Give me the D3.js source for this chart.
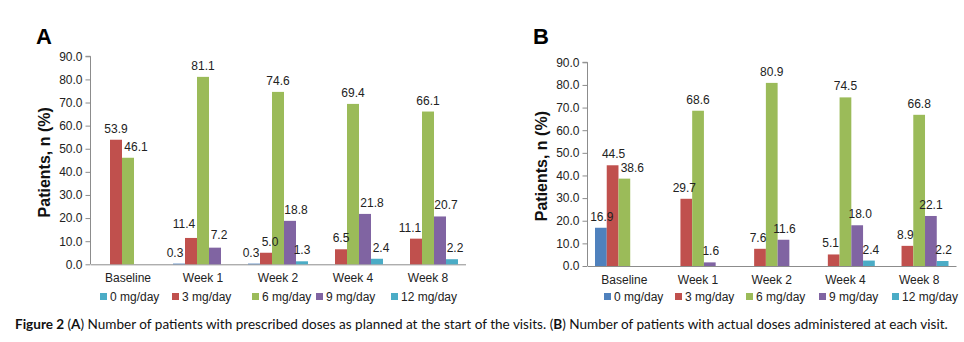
<!DOCTYPE html>
<html>
<head>
<meta charset="utf-8">
<script src="https://cdn.jsdelivr.net/npm/d3@7"></script>
<style>
  body { margin: 0; background: #fff; }
  svg text { font-family: "Liberation Sans", Arial, sans-serif; }
  svg text.caption { font-family: Lato, "Open Sans", sans-serif; }
</style>
</head>
<body>
<svg id="chart" width="964" height="342"></svg>
<script>
// Categories and series
const visits = ["Baseline", "Week 1", "Week 2", "Week 4", "Week 8"];
const doses = ["0 mg/day", "3 mg/day", "6 mg/day", "9 mg/day", "12 mg/day"];
const yTicks = [0, 10, 20, 30, 40, 50, 60, 70, 80, 90];

// Panel A: prescribed doses (null = no bar)
const prescribed0 = [null, 0.3, 0.3, null, null];
const prescribed3 = [53.9, 11.4, 5.0, 6.5, 11.1];
const prescribed6 = [46.1, 81.1, 74.6, 69.4, 66.1];
const prescribed9 = [null, 7.2, 18.8, 21.8, 20.7];
const prescribed12 = [null, null, 1.3, 2.4, 2.2];

// Panel B: actual doses administered
const actual0 = [16.9, null, null, null, null];
const actual3 = [44.5, 29.7, 7.6, 5.1, 8.9];
const actual6 = [38.6, 68.6, 80.9, 74.5, 66.8];
const actual9 = [null, 1.6, 11.6, 18.0, 22.1];
const actual12 = [null, null, null, 2.4, 2.2];

const barColors = ["#4f81bd", "#c0504d", "#9bbb59", "#8064a2", "#4bacc6"];
const legendColorsA = ["#4bacc6", "#c0504d", "#9bbb59", "#8064a2", "#4bacc6"];
const legendColorsB = barColors;

// label nudges (px) so value labels don't collide, per series x visit
const labelDxA = [
    [0, -4, -3, 0, 0],
    [0, -7, 4, 0, -6],
    [8, 0, 0, 0, 0],
    [0, 4, 6, 7, 6],
    [0, 0, 0, 4, 3]
];
const labelDyA = [
    [0, 0, 0, 0, 0],
    [0, -3, 0, 0, 0],
    [0, 0, 0, 0, 0],
    [0, -2, 0, 0, 0],
    [0, 0, 0, 0, 0]
];
const labelDxB = [
    [1, 0, 0, 0, 0],
    [1, -2, -2, -3, -2],
    [8, 0, 0, 0, 0],
    [0, 1, 1, 3, 0],
    [0, 0, 0, 2, 1]
];

const svg = d3.select("#chart");

function drawPanel(opts) {
    const g = svg.append("g");
    const series = opts.series;

    const x = d3.scaleBand().domain(visits).range([opts.x0, opts.x1]);
    const xs = d3.scaleBand().domain(doses).range([7.5, x.bandwidth() - 7.5]);
    const y = d3.scaleLinear().domain([0, 90]).range([opts.y0, opts.y1]);

    // Panel letter
    g.append("text")
        .attr("x", opts.letterX).attr("y", 44)
        .attr("font-size", 22).attr("font-weight", "bold")
        .text(opts.letter);

    // Y axis
    const yAxis = g.append("g")
        .attr("transform", `translate(${opts.x0},0)`)
        .call(d3.axisLeft(y).tickValues(yTicks).tickSize(5).tickPadding(3).tickFormat(d3.format(".1f")));
    yAxis.select(".domain").attr("stroke", "#8c8c8c").attr("d", `M-5,${y(90)}H0V${y(0)}`);
    yAxis.selectAll(".tick line").attr("stroke", "#8c8c8c");
    yAxis.selectAll(".tick text").attr("font-size", 12).attr("fill", "#222")
        .attr("font-family", null);

    // X axis
    const xAxis = g.append("g")
        .attr("transform", `translate(0,${opts.y0})`)
        .call(d3.axisBottom(x).tickSize(0).tickPadding(9));
    xAxis.select(".domain").attr("stroke", "#8c8c8c");
    xAxis.selectAll(".tick text").attr("font-size", 12).attr("fill", "#222");
    xAxis.attr("font-family", null);
    yAxis.attr("font-family", null);

    // Axis title
    g.append("text")
        .attr("transform", `translate(${opts.titleX},${(opts.y0 + opts.y1) / 2 + 2}) rotate(-90)`)
        .attr("text-anchor", "middle")
        .attr("font-size", 16).attr("font-weight", "bold").attr("fill", "#111")
        .text("Patients, n (%)");

    // Bars and labels
    const cells = [];
    series.forEach((vals, si) => {
        vals.forEach((v, ci) => {
            if (v !== null) cells.push({ visit: visits[ci], dose: doses[si], si: si, ci: ci, v: v });
        });
    });

    g.append("g").selectAll("rect")
        .data(cells)
        .enter().append("rect")
        .attr("x", d => x(d.visit) + xs(d.dose))
        .attr("y", d => y(d.v))
        .attr("width", xs.bandwidth())
        .attr("height", d => y(0) - y(d.v))
        .attr("fill", d => barColors[d.si]);

    g.append("g").selectAll("text")
        .data(cells)
        .enter().append("text")
        .attr("x", d => x(d.visit) + xs(d.dose) + xs.bandwidth() / 2 + opts.dx[d.si][d.ci])
        .attr("y", d => y(d.v) - 7 + (opts.dy ? opts.dy[d.si][d.ci] : 0))
        .attr("text-anchor", "middle")
        .attr("font-size", 12).attr("fill", "#222")
        .text(d => d3.format(".1f")(d.v));

    // Legend
    const leg = g.append("g").attr("transform", `translate(0,297)`);
    const item = leg.selectAll("g")
        .data(doses)
        .enter().append("g")
        .attr("transform", (d, i) => `translate(${opts.legendX[i]},0)`);
    item.append("rect")
        .attr("x", 0).attr("y", -4).attr("width", 7).attr("height", 7)
        .attr("fill", (d, i) => opts.legendColors[i]);
    item.append("text")
        .attr("x", 10).attr("y", 4)
        .attr("font-size", 12).attr("fill", "#222")
        .text(d => d);
}

drawPanel({
    letter: "A", letterX: 36, titleX: 50,
    x0: 90.5, x1: 465.5, y0: 264.3, y1: 56.3,
    series: [prescribed0, prescribed3, prescribed6, prescribed9, prescribed12],
    dx: labelDxA, dy: labelDyA,
    legendColors: legendColorsA,
    legendX: [100, 172, 252, 316, 391]
});

drawPanel({
    letter: "B", letterX: 533, titleX: 547,
    x0: 587.5, x1: 956, y0: 266, y1: 62.3,
    series: [actual0, actual3, actual6, actual9, actual12],
    dx: labelDxB,
    legendColors: legendColorsB,
    legendX: [604, 675, 746, 819, 892]
});

// Caption
const cap = svg.append("text")
    .attr("class", "caption")
    .attr("x", 15).attr("y", 329)
    .attr("font-size", 12).attr("fill", "#111");
cap.append("tspan").attr("font-weight", "bold").text("Figure 2 ");
cap.append("tspan").text("(");
cap.append("tspan").attr("font-weight", "bold").text("A");
cap.append("tspan").text(") Number of patients with prescribed doses as planned at the start of the visits. (");
cap.append("tspan").attr("font-weight", "bold").text("B");
cap.append("tspan").text(") Number of patients with actual doses administered at each visit.");

// scale caption to span the same width as the original
const capW = cap.node().getComputedTextLength();
cap.attr("font-size", 12 * 933 / capW);
</script>
</body>
</html>
